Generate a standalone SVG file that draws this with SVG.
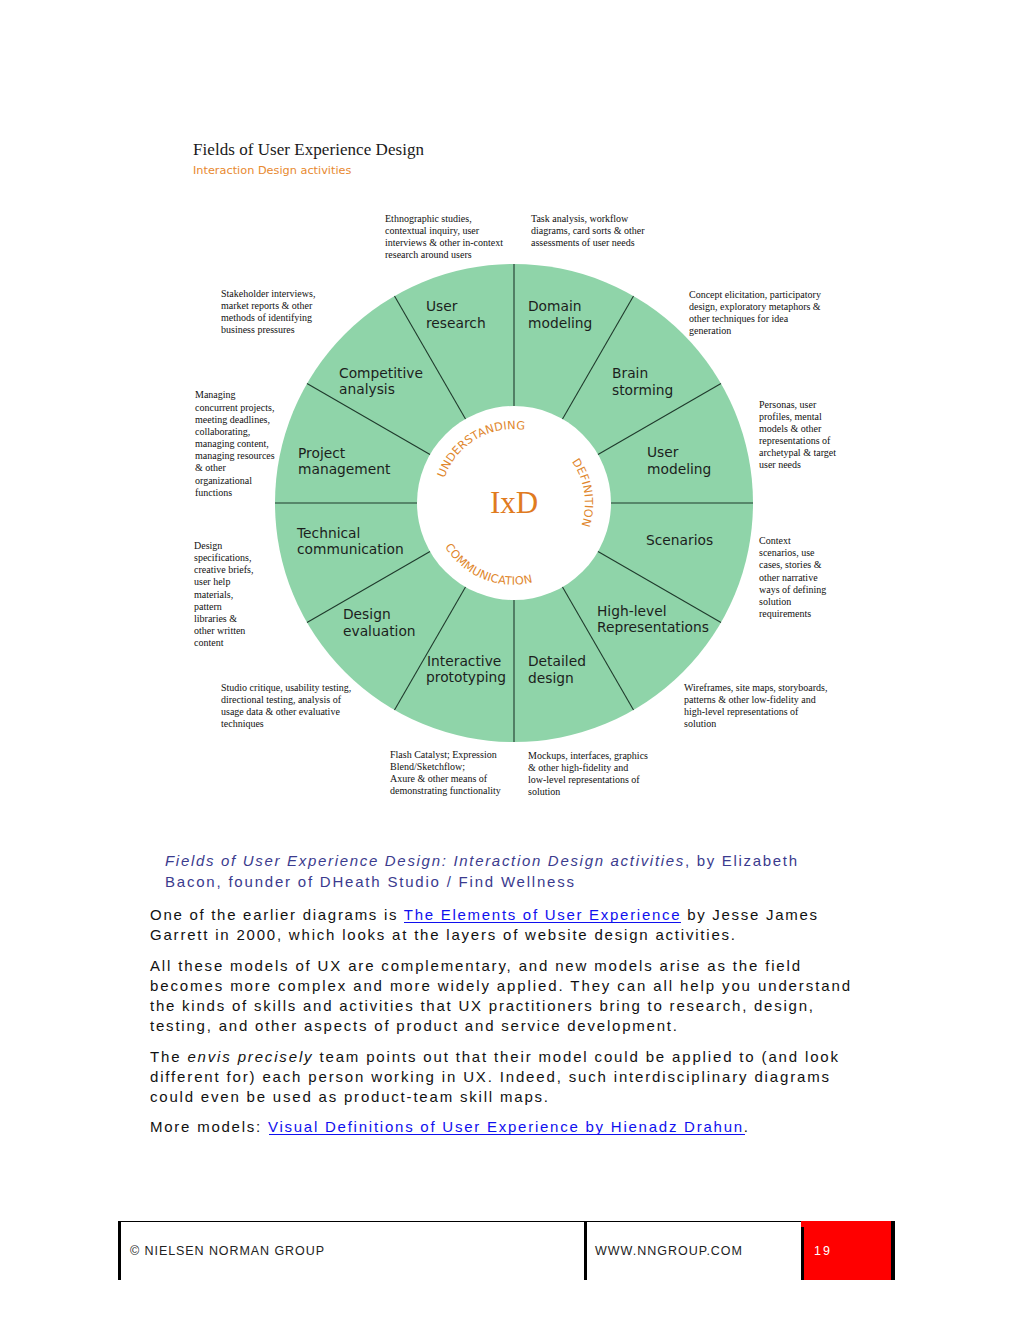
<svg xmlns="http://www.w3.org/2000/svg" width="1020" height="1320" viewBox="0 0 1020 1320">
<style>
.lbl{font-family:"DejaVu Sans",sans-serif;font-size:13.8px;fill:#1c1f1d}
.ann{font-family:"Liberation Serif",serif;font-size:10px;fill:#111}
.arc{font-family:"DejaVu Sans",sans-serif;font-size:11.3px;fill:#e0862c;letter-spacing:0.2px}
.body{font-family:"Liberation Sans",sans-serif;font-size:15px;fill:#111}
.cap{font-family:"Liberation Sans",sans-serif;font-size:15px;fill:#3b3b8e}
.lnk{fill:#1010ee}
.ul{stroke:#1010ee;stroke-width:1}
.foot{font-family:"Liberation Sans",sans-serif;font-size:12.5px;fill:#222}
.spoke{stroke:#1f3a2c;stroke-width:1.1}
</style>
<defs>
<path id="pU" d="M440.0,504.3 A74,74 0 0 1 549.9,438.3"/>
<path id="pD" d="M549.5,441.5 A71,71 0 0 1 565.9,551.4"/>
<path id="pC" d="M433.4,513.3 A80,80 0 0 0 564.4,565.9"/>
</defs>
<rect width="1020" height="1320" fill="#fff"/>

<g id="title">
<text x="193" y="155" font-family="Liberation Serif,serif" font-size="17" fill="#1a1a1a" textLength="231">Fields of User Experience Design</text>
<text x="193" y="174" font-family="DejaVu Sans,sans-serif" font-size="11.3" fill="#e8892f">Interaction Design activities</text>
</g>

<g id="wheel">
<circle cx="514" cy="503" r="239" fill="#8fd4a9"/>
<circle cx="514" cy="503" r="97" fill="#fff"/>
</g>

<g id="spokes">
<line class="spoke" x1="611" y1="503" x2="753" y2="503"/>
<line class="spoke" x1="598" y1="454.5" x2="721" y2="383.5"/>
<line class="spoke" x1="562.5" y1="419" x2="633.5" y2="296"/>
<line class="spoke" x1="514" y1="406" x2="514" y2="264"/>
<line class="spoke" x1="465.5" y1="419" x2="394.5" y2="296"/>
<line class="spoke" x1="430" y1="454.5" x2="307" y2="383.5"/>
<line class="spoke" x1="417" y1="503" x2="275" y2="503"/>
<line class="spoke" x1="430" y1="551.5" x2="307" y2="622.5"/>
<line class="spoke" x1="465.5" y1="587" x2="394.5" y2="710"/>
<line class="spoke" x1="514" y1="600" x2="514" y2="742"/>
<line class="spoke" x1="562.5" y1="587" x2="633.5" y2="710"/>
<line class="spoke" x1="598" y1="551.5" x2="721" y2="622.5"/>
</g>

<g id="center">
<text x="514" y="513" text-anchor="middle" font-family="Liberation Serif,serif" font-size="31" fill="#e07b1f">IxD</text>
<text class="arc"><textPath href="#pU" startOffset="50%" text-anchor="middle">UNDERSTANDING</textPath></text>
<text class="arc"><textPath href="#pD" startOffset="50%" text-anchor="middle">DEFINITION</textPath></text>
<text class="arc"><textPath href="#pC" startOffset="50%" text-anchor="middle">COMMUNICATION</textPath></text>
</g>

<g id="user-research">
<text class="lbl" x="426" y="311">User</text><text class="lbl" x="426" y="328">research</text>
<text class="ann" x="385" y="222">Ethnographic studies,</text>
<text class="ann" x="385" y="234">contextual inquiry, user</text>
<text class="ann" x="385" y="246">interviews &amp; other in-context</text>
<text class="ann" x="385" y="258">research around users</text>
</g>
<g id="domain-modeling">
<text class="lbl" x="528" y="311">Domain</text><text class="lbl" x="528" y="328">modeling</text>
<text class="ann" x="531" y="222">Task analysis, workflow</text>
<text class="ann" x="531" y="234">diagrams, card sorts &amp; other</text>
<text class="ann" x="531" y="246">assessments of user needs</text>
</g>
<g id="brain-storming">
<text class="lbl" x="612" y="378">Brain</text><text class="lbl" x="612" y="395">storming</text>
<text class="ann" x="689" y="298">Concept elicitation, participatory</text>
<text class="ann" x="689" y="310">design, exploratory metaphors &amp;</text>
<text class="ann" x="689" y="322">other techniques for idea</text>
<text class="ann" x="689" y="334">generation</text>
</g>
<g id="user-modeling">
<text class="lbl" x="647" y="457">User</text><text class="lbl" x="647" y="474">modeling</text>
<text class="ann" x="759" y="408">Personas, user</text>
<text class="ann" x="759" y="420">profiles, mental</text>
<text class="ann" x="759" y="432">models &amp; other</text>
<text class="ann" x="759" y="444">representations of</text>
<text class="ann" x="759" y="456">archetypal &amp; target</text>
<text class="ann" x="759" y="468">user needs</text>
</g>
<g id="scenarios">
<text class="lbl" x="646" y="545">Scenarios</text>
<text class="ann" x="759" y="544">Context</text>
<text class="ann" x="759" y="556">scenarios, use</text>
<text class="ann" x="759" y="568">cases, stories &amp;</text>
<text class="ann" x="759" y="581">other narrative</text>
<text class="ann" x="759" y="593">ways of defining</text>
<text class="ann" x="759" y="605">solution</text>
<text class="ann" x="759" y="617">requirements</text>
</g>
<g id="high-level-representations">
<text class="lbl" x="597" y="616">High-level</text><text class="lbl" x="597" y="632">Representations</text>
<text class="ann" x="684" y="691">Wireframes, site maps, storyboards,</text>
<text class="ann" x="684" y="703">patterns &amp; other low-fidelity and</text>
<text class="ann" x="684" y="715">high-level representations of</text>
<text class="ann" x="684" y="727">solution</text>
</g>
<g id="detailed-design">
<text class="lbl" x="528" y="666">Detailed</text><text class="lbl" x="528" y="683">design</text>
<text class="ann" x="528" y="759">Mockups, interfaces, graphics</text>
<text class="ann" x="528" y="771">&amp; other high-fidelity and</text>
<text class="ann" x="528" y="783">low-level representations of</text>
<text class="ann" x="528" y="795">solution</text>
</g>
<g id="interactive-prototyping">
<text class="lbl" x="427" y="666">Interactive</text><text class="lbl" x="426" y="682">prototyping</text>
<text class="ann" x="390" y="758">Flash Catalyst; Expression</text>
<text class="ann" x="390" y="770">Blend/Sketchflow;</text>
<text class="ann" x="390" y="782">Axure &amp; other means of</text>
<text class="ann" x="390" y="794">demonstrating functionality</text>
</g>
<g id="design-evaluation">
<text class="lbl" x="343" y="619">Design</text><text class="lbl" x="343" y="636">evaluation</text>
<text class="ann" x="221" y="691">Studio critique, usability testing,</text>
<text class="ann" x="221" y="703">directional testing, analysis of</text>
<text class="ann" x="221" y="715">usage data &amp; other evaluative</text>
<text class="ann" x="221" y="727">techniques</text>
</g>
<g id="technical-communication">
<text class="lbl" x="297" y="538">Technical</text><text class="lbl" x="297" y="554">communication</text>
<text class="ann" x="194" y="549">Design</text>
<text class="ann" x="194" y="561">specifications,</text>
<text class="ann" x="194" y="573">creative briefs,</text>
<text class="ann" x="194" y="585">user help</text>
<text class="ann" x="194" y="598">materials,</text>
<text class="ann" x="194" y="610">pattern</text>
<text class="ann" x="194" y="622">libraries &amp;</text>
<text class="ann" x="194" y="634">other written</text>
<text class="ann" x="194" y="646">content</text>
</g>
<g id="project-management">
<text class="lbl" x="298" y="458">Project</text><text class="lbl" x="298" y="474">management</text>
<text class="ann" x="195" y="398">Managing</text>
<text class="ann" x="195" y="411">concurrent projects,</text>
<text class="ann" x="195" y="423">meeting deadlines,</text>
<text class="ann" x="195" y="435">collaborating,</text>
<text class="ann" x="195" y="447">managing content,</text>
<text class="ann" x="195" y="459">managing resources</text>
<text class="ann" x="195" y="471">&amp; other</text>
<text class="ann" x="195" y="484">organizational</text>
<text class="ann" x="195" y="496">functions</text>
</g>
<g id="competitive-analysis">
<text class="lbl" x="339" y="378">Competitive</text><text class="lbl" x="339" y="394">analysis</text>
<text class="ann" x="221" y="297">Stakeholder interviews,</text>
<text class="ann" x="221" y="309">market reports &amp; other</text>
<text class="ann" x="221" y="321">methods of identifying</text>
<text class="ann" x="221" y="333">business pressures</text>
</g>

<g id="caption">
<text class="cap" x="165" y="866" textLength="632"><tspan font-style="italic">Fields of User Experience Design: Interaction Design activities</tspan>, by Elizabeth</text>
<text class="cap" x="165" y="887" textLength="409">Bacon, founder of DHeath Studio / Find Wellness</text>
</g>

<g id="body-text">
<text class="body" x="150" y="920" textLength="667">One of the earlier diagrams is <tspan class="lnk">The Elements of User Experience</tspan> by Jesse James</text>
<line class="ul" x1="404" y1="922.5" x2="681" y2="922.5"/>
<text class="body" x="150" y="940" textLength="585">Garrett in 2000, which looks at the layers of website design activities.</text>
<text class="body" x="150" y="971" textLength="650">All these models of UX are complementary, and new models arise as the field</text>
<text class="body" x="150" y="991" textLength="700">becomes more complex and more widely applied. They can all help you understand</text>
<text class="body" x="150" y="1011" textLength="663">the kinds of skills and activities that UX practitioners bring to research, design,</text>
<text class="body" x="150" y="1031" textLength="527">testing, and other aspects of product and service development.</text>
<text class="body" x="150" y="1062" textLength="688">The <tspan font-style="italic">envis precisely</tspan> team points out that their model could be applied to (and look</text>
<text class="body" x="150" y="1082" textLength="679">different for) each person working in UX. Indeed, such interdisciplinary diagrams</text>
<text class="body" x="150" y="1102" textLength="398">could even be used as product-team skill maps.</text>
<text class="body" x="150" y="1132" textLength="598">More models: <tspan class="lnk">Visual Definitions of User Experience by Hienadz Drahun</tspan>.</text>
<line class="ul" x1="269" y1="1134.5" x2="745" y2="1134.5"/>
</g>

<g id="footer">
<rect x="801" y="1221" width="91" height="59" fill="#ff0000"/>
<line x1="119" y1="1221.5" x2="801" y2="1221.5" stroke="#000" stroke-width="1"/>
<rect x="118" y="1221" width="3" height="59" fill="#000"/>
<rect x="584" y="1221" width="3" height="59" fill="#000"/>
<rect x="801" y="1227" width="3" height="53" fill="#000"/>
<rect x="891" y="1221" width="4" height="59" fill="#000"/>
<text class="foot" x="130" y="1255" textLength="194">© NIELSEN NORMAN GROUP</text>
<text class="foot" x="595" y="1255" textLength="147">WWW.NNGROUP.COM</text>
<text class="foot" x="814" y="1255" style="fill:#fff" letter-spacing="2">19</text>
</g>
</svg>
